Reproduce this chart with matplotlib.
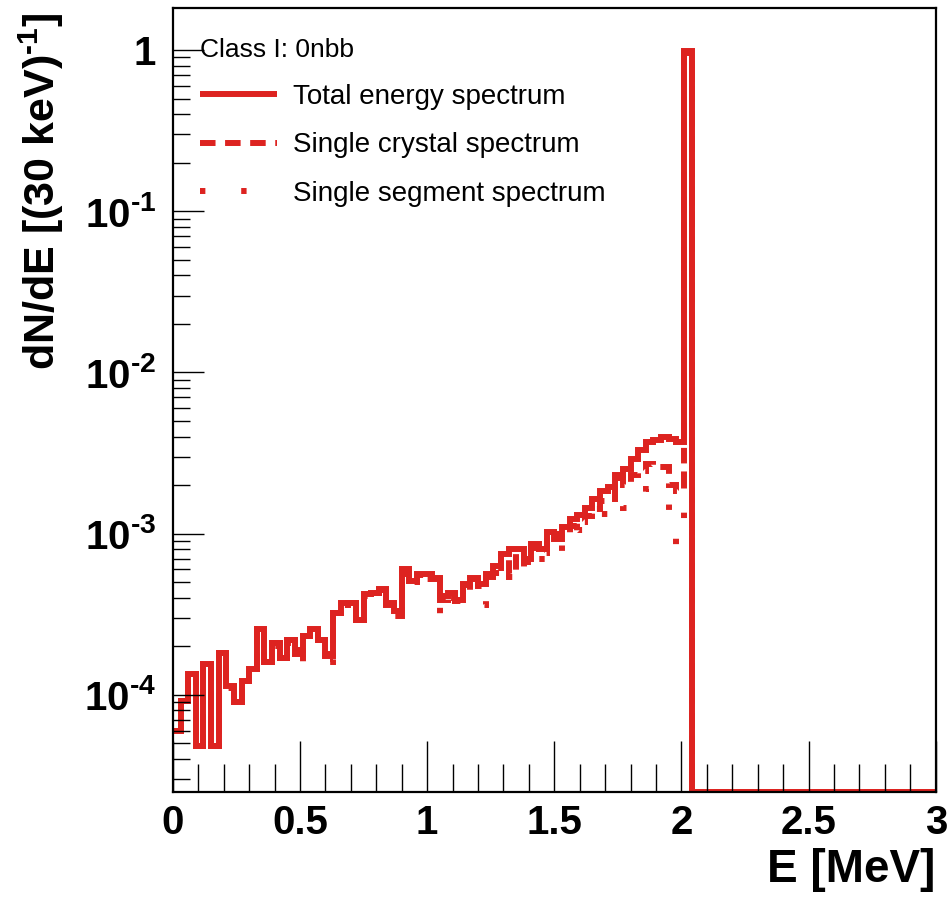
import numpy as np
import matplotlib
matplotlib.use("Agg")
import matplotlib.pyplot as plt
from matplotlib.lines import Line2D

plt.rcParams.update({
    "font.family": ["Liberation Sans", "DejaVu Sans"],
    "mathtext.fontset": "custom",
    "mathtext.rm": "Liberation Sans:bold",
    "mathtext.bf": "Liberation Sans:bold",
    "mathtext.it": "Liberation Sans:bold",
})

RED = "#dd2320"

# 30 keV bins from 0 to 3 MeV; bins above the 2.01-2.04 MeV peak bin are empty
BIN_EDGES = np.linspace(0.0, 3.0, 101)
N_EMPTY = 32

total = [6.0e-5, 9.2e-5, 1.35e-4, 4.8e-5, 1.56e-4, 4.8e-5, 1.83e-4, 1.14e-4, 9.0e-5, 1.22e-4,
         1.45e-4, 2.57e-4, 1.6e-4, 2.1e-4, 1.7e-4, 2.2e-4, 1.9e-4, 2.3e-4, 2.57e-4, 2.2e-4,
         1.8e-4, 3.2e-4, 3.7e-4, 3.7e-4, 2.9e-4, 4.2e-4, 4.3e-4, 4.55e-4, 3.7e-4, 3.3e-4,
         6.0e-4, 5.1e-4, 5.6e-4, 5.6e-4, 5.3e-4, 4.1e-4, 4.3e-4, 3.9e-4, 4.9e-4, 5.3e-4,
         4.9e-4, 5.6e-4, 6.3e-4, 7.5e-4, 8.0e-4, 8.0e-4, 7.0e-4, 8.6e-4, 8.0e-4, 1.02e-3,
         1.0e-3, 1.1e-3, 1.23e-3, 1.3e-3, 1.45e-3, 1.65e-3, 1.85e-3, 1.95e-3, 2.3e-3, 2.5e-3,
         2.9e-3, 3.3e-3, 3.7e-3, 3.8e-3, 4.0e-3, 3.85e-3, 3.7e-3, 0.98]

crystal = [6.0e-5, 9.2e-5, 1.35e-4, 4.8e-5, 1.56e-4, 4.8e-5, 1.83e-4, 1.1e-4, 9.0e-5, 1.22e-4,
           1.45e-4, 2.57e-4, 1.6e-4, 2.1e-4, 1.7e-4, 2.2e-4, 1.8e-4, 2.3e-4, 2.5e-4, 2.2e-4,
           1.75e-4, 3.2e-4, 3.6e-4, 3.7e-4, 2.9e-4, 4.1e-4, 4.3e-4, 4.5e-4, 3.6e-4, 3.1e-4,
           5.9e-4, 5.0e-4, 5.5e-4, 5.5e-4, 5.2e-4, 3.9e-4, 4.2e-4, 3.8e-4, 4.8e-4, 5.2e-4,
           4.7e-4, 5.4e-4, 6.1e-4, 7.2e-4, 5.6e-4, 7.6e-4, 6.7e-4, 8.2e-4, 7.6e-4, 9.6e-4,
           9.3e-4, 1.0e-3, 1.12e-3, 1.18e-3, 1.28e-3, 1.42e-3, 1.6e-3, 1.65e-3, 2.2e-3, 2.0e-3,
           2.3e-3, 2.45e-3, 2.7e-3, 2.6e-3, 2.6e-3, 2.0e-3, 1.85e-3, 0.96]

segment = [6.0e-5, 9.2e-5, 1.35e-4, 4.8e-5, 1.56e-4, 4.8e-5, 1.83e-4, 1.0e-4, 9.0e-5, 1.2e-4,
           1.4e-4, 2.5e-4, 1.55e-4, 2.0e-4, 1.65e-4, 2.1e-4, 1.55e-4, 2.2e-4, 2.4e-4, 2.1e-4,
           1.6e-4, 3.0e-4, 3.5e-4, 3.5e-4, 2.8e-4, 3.9e-4, 4.1e-4, 4.3e-4, 3.5e-4, 2.9e-4,
           5.6e-4, 4.8e-4, 5.2e-4, 5.2e-4, 4.9e-4, 3.0e-4, 4.0e-4, 3.6e-4, 4.5e-4, 4.9e-4,
           3.6e-4, 4.4e-4, 5.7e-4, 6.8e-4, 5.4e-4, 7.2e-4, 6.2e-4, 7.6e-4, 7.0e-4, 8.8e-4,
           8.5e-4, 7.8e-4, 1.0e-3, 1.05e-3, 1.07e-3, 1.2e-3, 1.32e-3, 1.23e-3, 1.5e-3, 1.45e-3,
           1.45e-3, 1.7e-3, 1.9e-3, 1.7e-3, 1.6e-3, 1.4e-3, 8.5e-4, 0.95]

labels = ["Total energy spectrum", "Single crystal spectrum", "Single segment spectrum"]
styles = ["-", (0, (2.6, 1.6)), (0, (0.9, 6.0))]

YMIN, YMAX = 2.5e-5, 1.82
XTICKS = [0, 0.5, 1, 1.5, 2, 2.5, 3]
XTICKLABELS = ["0", "0.5", "1", "1.5", "2", "2.5", "3"]
YTICKS = [1e-4, 1e-3, 1e-2, 1e-1, 1]
YTICKLABELS = ["$10^{\u20104}$", "$10^{\u20103}$", "$10^{\u20102}$", "$10^{\u20101}$", "$1$"]

LW = 4.3

fig = plt.figure(figsize=(9.5, 9.06), dpi=100)
ax = fig.add_axes([0.182, 0.126, 0.803, 0.865])

for vals, ls in zip([segment, crystal, total], styles[::-1]):
    v = np.concatenate([np.asarray(vals), np.zeros(N_EMPTY)])
    v = np.clip(v, YMIN, None)  # empty bins drawn on the axis floor, ROOT-style
    ax.stairs(v, BIN_EDGES, baseline=None, color=RED, linewidth=LW,
              linestyle=ls, capstyle="butt")

ax.set_yscale("log")
ax.set_xlim(0, 3)
ax.set_ylim(YMIN, YMAX)

ax.set_xticks(XTICKS)
ax.set_xticklabels(XTICKLABELS, fontsize=29, fontweight="bold")
ax.set_xticks(np.arange(0, 3.01, 0.1), minor=True)
ax.set_yticks(YTICKS)
ax.set_yticklabels(YTICKLABELS, fontsize=29)
ax.tick_params(axis="both", which="both", direction="in", top=False, right=False)
ax.tick_params(axis="x", which="major", length=37, width=1.0, pad=9)
ax.tick_params(axis="x", which="minor", length=20, width=1.0)
ax.tick_params(axis="y", which="major", length=22, width=1.0, pad=12)
ax.tick_params(axis="y", which="minor", length=12, width=1.0)
ax.yaxis.set_minor_formatter(plt.NullFormatter())
for sp in ax.spines.values():
    sp.set_linewidth(1.6)

ax.set_xlabel("E [MeV]", fontsize=33, fontweight="bold", loc="right")
ax.xaxis.set_label_coords(1.0, -0.072)
ax.set_ylabel("dN/dE [(30 keV)$^{\u20101}$]", fontsize=31, fontweight="bold", loc="top")
ax.yaxis.set_label_coords(-0.14, 0.995)

handles = [Line2D([], [], color=RED, linewidth=LW, linestyle=s, solid_capstyle="butt",
                  dash_capstyle="butt") for s in styles]
leg = ax.legend(handles, labels, title="Class I: 0nbb", loc="upper left",
                bbox_to_anchor=(0.035, 0.962), frameon=False, fontsize=20,
                title_fontsize=19, handlelength=2.8, labelspacing=0.8,
                handletextpad=0.55, borderpad=0, borderaxespad=0, alignment="left")

fig.savefig("out.png", dpi=100)
